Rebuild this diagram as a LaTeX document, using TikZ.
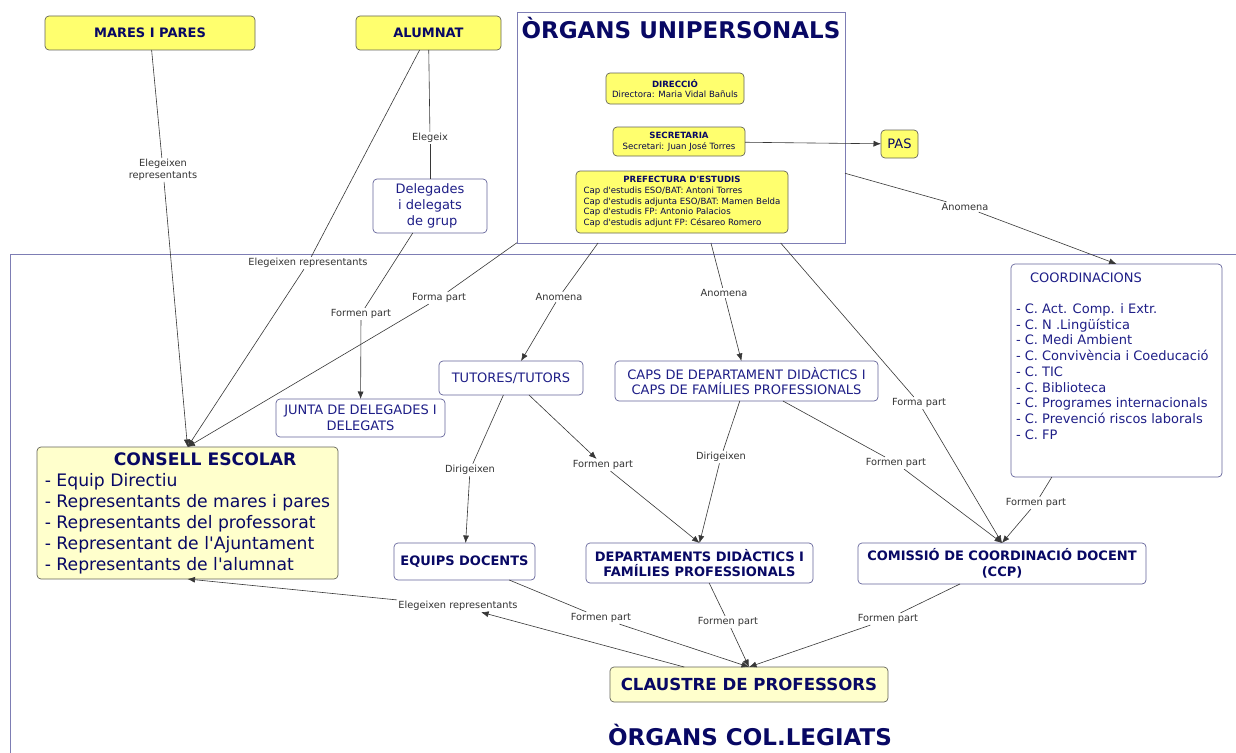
\documentclass[tikz,border=0pt]{standalone}
\usepackage{fontspec}
\setmainfont{DejaVu Sans}[Ligatures=TeXOff]
\usetikzlibrary{arrows.meta}
\definecolor{ylw}{RGB}{255,255,110}
\definecolor{pale}{RGB}{255,255,204}
\definecolor{navy}{RGB}{8,8,100}
\definecolor{blu}{RGB}{30,30,135}
\definecolor{ybord}{RGB}{100,100,90}
\definecolor{wbord}{RGB}{100,100,155}
\definecolor{cbord}{RGB}{125,125,180}
\definecolor{lnk}{RGB}{55,55,55}
\begin{document}
\begin{tikzpicture}[x=1pt,y=-1pt,
  every node/.style={inner sep=0pt,outer sep=0pt},
  box/.style={draw,rounded corners=4pt,line width=0.7pt,align=center},
  ybox/.style={box,fill=ylw,draw=ybord},
  pbox/.style={box,fill=pale,draw=ybord},
  wbox/.style={box,fill=white,draw=wbord,text=blu,font=\fontsize{13}{15.7}\selectfont},
  bt/.style={font=\fontsize{13}{15}\selectfont\bfseries,text=navy},
  small/.style={font=\fontsize{8.6}{10.6}\selectfont,text=navy!75!black},
  lbl/.style={fill=white,inner sep=1.5pt,font=\fontsize{9.8}{11.5}\selectfont,text=black!80,align=center},
  lk/.style={draw=lnk,line width=0.6pt},
  ar/.style={lk,-{Latex[length=7.5pt,width=6pt]}},
]
\useasboundingbox (0,0) rectangle (1236,752);
\clip (0,0) rectangle (1236,752);
\fill[white] (0,0) rectangle (1236,752);

% big container (organs col.legiats)
\draw[cbord,line width=0.8pt] (1240,254) -- (10,254) -- (10,760);
\node[font=\fontsize{23}{27}\selectfont\bfseries,text=navy,anchor=base] (coltitle) at (750,745.5) {ÒRGANS COL.LEGIATS};

% organs unipersonals container
\node[draw=cbord,line width=0.8pt,fill=white,minimum width=328pt,minimum height=231pt] (uni) at (681,127.5) {};
\node[font=\fontsize{23}{27}\selectfont\bfseries,text=navy,anchor=base] (unititle) at (681,38) {ÒRGANS UNIPERSONALS};

\node[ybox,small,minimum width=138pt,minimum height=31pt] (dir) at (675,88.5)
  {\textbf{\textcolor{navy}{DIRECCIÓ}}\\Directora: Maria Vidal Bañuls};
\node[ybox,small,minimum width=132pt,minimum height=29pt] (sec) at (679,141.5)
  {\textbf{\textcolor{navy}{SECRETARIA}}\\Secretari: Juan José Torres};
\node[ybox,small,minimum width=212pt,minimum height=62pt] (pref) at (682,202)
  {\begin{tabular}{@{}l@{}}\multicolumn{1}{@{}c@{}}{\textbf{\textcolor{navy}{PREFECTURA D'ESTUDIS}}}\\
   Cap d'estudis ESO/BAT: Antoni Torres\\
   Cap d'estudis adjunta ESO/BAT: Mamen Belda\\
   Cap d'estudis FP: Antonio Palacios\\
   Cap d'estudis adjunt FP: Césareo Romero\end{tabular}};
\node[ybox,font=\fontsize{13}{15}\selectfont,text=navy,minimum width=37pt,minimum height=28pt] (pas) at (899.5,144) {PAS};

% top nodes
\node[ybox,bt,minimum width=210pt,minimum height=34pt] (mares) at (150,33) {MARES I PARES};
\node[ybox,bt,minimum width=145pt,minimum height=34pt] (alumnat) at (428.5,33) {ALUMNAT};
\node[wbox,minimum width=114pt,minimum height=54pt] (dele) at (430,206) {Delegades\\i delegats\\\ de grup};

% col.legiats nodes
\node[pbox,align=left,text=navy,font=\fontsize{17.2}{21}\selectfont,minimum width=301pt,minimum height=132pt] (consell) at (187.5,513)
  {\hspace*{69pt}\textbf{CONSELL ESCOLAR}\\
   - Equip Directiu\\
   - Representants de mares i pares\\
   - Representants del professorat\\
   - Representant de l'Ajuntament\\
   - Representants de l'alumnat};
\node[wbox,minimum width=169pt,minimum height=38pt] (junta) at (360.5,418) {JUNTA DE DELEGADES I\\DELEGATS};
\node[wbox,minimum width=144pt,minimum height=34pt] (tut) at (511,378) {TUTORES/TUTORS};
\node[wbox,minimum width=263pt,minimum height=40pt] (caps) at (746.5,381) {CAPS DE DEPARTAMENT DIDÀCTICS I\\CAPS DE FAMÍLIES PROFESSIONALS};
\node[wbox,minimum width=211pt,minimum height=213pt,inner sep=4pt] (coord) at (1116.5,370.5)
  {\parbox[c][205pt][t]{201pt}{\raggedright\vspace*{4.5pt}
   \hspace*{14pt}COORDINACIONS\\
   \mbox{}\\
   - C. Act. Comp. i Extr.\\
   - C. N .Lingüística\\
   - C. Medi Ambient\\
   - C. Convivència i Coeducació\\
   - C. TIC\\
   - C. Biblioteca\\
   - C. Programes internacionals\\
   - C. Prevenció riscos laborals\\
   - C. FP}};
\node[wbox,bt,minimum width=141pt,minimum height=37pt] (equips) at (464.5,561.5) {EQUIPS DOCENTS};
\node[wbox,font=\fontsize{13}{15}\selectfont\bfseries,text=navy,minimum width=227pt,minimum height=40pt] (dept) at (699.5,563) {DEPARTAMENTS DIDÀCTICS I\\FAMÍLIES PROFESSIONALS};
\node[wbox,font=\fontsize{13}{15.5}\selectfont\bfseries,text=navy,minimum width=288pt,minimum height=41pt] (ccp) at (1002,563.5) {COMISSIÓ DE COORDINACIÓ DOCENT\\(CCP)};
\node[pbox,font=\fontsize{16.6}{20}\selectfont\bfseries,text=navy,minimum width=278pt,minimum height=35pt] (claus) at (749,684.5) {CLAUSTRE DE PROFESSORS};

% labels
\node[lbl] (l1) at (163,170) {Elegeixen\\representants};
\node[lbl] (l2) at (308,263) {Elegeixen representants};
\node[lbl] (l3) at (430,138) {Elegeix};
\node[lbl] (l4) at (439,298) {Forma part};
\node[lbl] (l5) at (361,314) {Formen part};
\node[lbl] (l6) at (559,297) {Anomena};
\node[lbl] (l7) at (724,293) {Anomena};
\node[lbl] (l8) at (919,403) {Forma part};
\node[lbl] (l9) at (965,207) {Anomena};
\node[lbl] (l10) at (470,470) {Dirigeixen};
\node[lbl] (l11) at (603,465) {Formen part};
\node[lbl] (l12) at (721,457) {Dirigeixen};
\node[lbl] (l13) at (896,463) {Formen part};
\node[lbl] (l14) at (1036,503) {Formen part};
\node[lbl] (l15) at (601,618) {Formen part};
\node[lbl] (l16) at (728,622) {Formen part};
\node[lbl] (l17) at (888,619) {Formen part};
\node[lbl] (l18) at (458,606) {Elegeixen representants};

% links
\draw[lk] (mares) -- (l1);   \draw[ar] (l1) -- (consell.north);
\draw[lk] (alumnat) -- (l2); \draw[ar] (l2) -- (consell.north);
\draw[lk] (alumnat) -- (l3); \draw[lk] (l3) -- (dele);
\draw[lk] (uni) -- (l4);     \draw[ar] (l4) -- (consell.north);
\draw[lk] (dele) -- (l5);    \draw[ar] (l5) -- (junta);
\draw[lk] (uni) -- (l6);     \draw[ar] (l6) -- (tut);
\draw[lk] (uni) -- (l7);     \draw[ar] (l7) -- (caps);
\draw[lk] (uni) -- (l8);     \draw[ar] (l8) -- (ccp.north);
\draw[lk] (uni) -- (l9);     \draw[ar] (l9) -- (coord.north);
\draw[ar] (sec) -- (pas);
\draw[lk] (tut) -- (l10);    \draw[ar] (l10) -- (equips);
\draw[ar] (tut) -- (l11);    \draw[ar] (l11) -- (dept.north);
\draw[lk] (caps) -- (l12);   \draw[ar] (l12) -- (dept.north);
\draw[lk] (caps) -- (l13);   \draw[ar] (l13) -- (ccp.north);
\draw[lk] (coord) -- (l14);  \draw[ar] (l14) -- (ccp.north);
\draw[lk] (equips) -- (l15); \draw[ar] (l15) -- (claus.north);
\draw[lk] (dept) -- (l16);   \draw[ar] (l16) -- (claus.north);
\draw[lk] (ccp) -- (l17);    \draw[ar] (l17) -- (claus.north);
\draw[ar] (claus) -- (l18);  \draw[ar] (l18) -- (consell.south);
\end{tikzpicture}
\end{document}
